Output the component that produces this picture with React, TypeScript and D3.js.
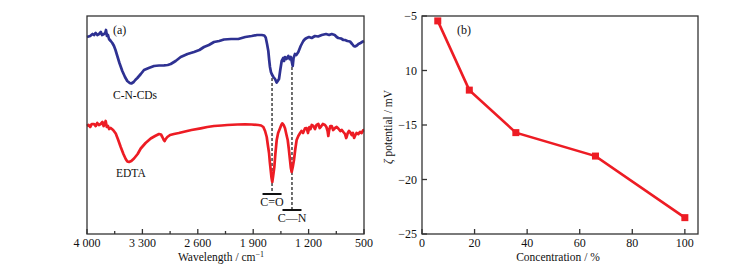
import React from "react";
import * as d3 from "d3";

// Panel (a): FTIR spectra, [wavenumber cm^-1, transmittance (a.u.)]
const cndsSpectrum: [number, number][] = [
  [4000, 197], [3960, 198], [3930, 200], [3912, 199], [3890, 201], [3870, 199], [3848, 200],
  [3825, 202], [3810, 199], [3785, 200], [3770, 201], [3760, 204], [3748, 198], [3735, 199],
  [3722, 195], [3700, 193], [3680, 191], [3659, 188], [3640, 184], [3617, 178], [3590, 171],
  [3554, 163], [3520, 157], [3491, 153], [3460, 151], [3440, 150.5], [3410, 152], [3390, 154],
  [3364, 156], [3320, 160], [3280, 164], [3220, 166], [3153, 168], [3090, 168.5], [3027, 168.7],
  [2980, 169], [2942, 170], [2880, 173], [2816, 177], [2730, 180], [2648, 182], [2580, 184],
  [2522, 187], [2460, 189], [2395, 192], [2330, 193], [2269, 194.5], [2180, 195], [2088, 195],
  [2000, 197], [1919, 198], [1850, 199], [1792, 199], [1760, 198.5], [1742, 196.5], [1725, 190],
  [1709, 183], [1698, 174], [1688, 167], [1676, 162], [1666, 160], [1645, 157], [1624, 155],
  [1610, 152.5], [1603, 151.5], [1590, 153], [1574, 155], [1558, 164], [1540, 173], [1520, 176],
  [1510, 173], [1498, 177], [1480, 175], [1456, 178], [1440, 175], [1426, 177], [1414, 173],
  [1401, 168], [1390, 176], [1372, 180], [1355, 179], [1330, 182], [1300, 188], [1267, 193],
  [1245, 195], [1224, 196], [1195, 197], [1161, 196], [1120, 198], [1080, 197.5], [1034, 199],
  [980, 200], [940, 199], [908, 200], [870, 199], [845, 197], [825, 196], [790, 195.5],
  [760, 194], [740, 194], [710, 193], [677, 192.5], [650, 190], [630, 188], [614, 187.5],
  [590, 188.5], [570, 190], [550, 190.7], [525, 192], [500, 193],
];

const edtaSpectrum: [number, number][] = [
  [4000, 108], [3980, 109], [3960, 107], [3940, 110], [3912, 110], [3890, 108], [3870, 111],
  [3850, 109], [3827, 110], [3805, 112], [3790, 108], [3775, 110], [3764, 113], [3750, 107],
  [3735, 108], [3720, 105], [3701, 106], [3670, 104], [3637, 100.5], [3610, 95], [3574, 87],
  [3540, 80], [3511, 75], [3490, 72.5], [3469, 72], [3440, 73], [3406, 75.5], [3360, 80],
  [3321, 85.5], [3260, 91], [3195, 95.5], [3140, 98], [3090, 100], [3065, 99.5], [3048, 97],
  [3030, 94], [3018, 93], [3005, 95], [2985, 97], [2950, 99], [2901, 100], [2840, 101],
  [2774, 102.3], [2680, 104], [2563, 105.7], [2480, 107], [2395, 108], [2300, 108.5],
  [2227, 109], [2100, 109.5], [2003, 109.7], [1920, 109.5], [1835, 109], [1800, 108.5],
  [1772, 107], [1750, 103], [1729, 97], [1715, 89], [1700, 81], [1690, 72], [1679, 64],
  [1668, 56], [1659, 52], [1648, 58], [1633, 67], [1620, 80], [1603, 94], [1585, 101],
  [1561, 105.7], [1545, 109], [1532, 110.7], [1515, 109], [1498, 105.7], [1482, 100],
  [1464, 94], [1450, 85], [1435, 74], [1424, 66], [1414, 62], [1400, 67], [1385, 74],
  [1368, 85], [1351, 94], [1330, 98], [1309, 100.7], [1290, 103], [1270, 101], [1245, 105.7],
  [1225, 106], [1208, 101], [1190, 107], [1175, 105], [1161, 109], [1140, 108], [1119, 105],
  [1100, 109], [1077, 110], [1060, 106], [1043, 107.5], [1020, 110], [993, 109], [975, 107],
  [960, 103], [951, 98], [940, 104], [925, 108], [908, 108], [890, 104], [866, 106],
  [845, 107], [825, 105.5], [800, 103], [780, 104], [761, 102], [740, 100], [725, 96],
  [719, 97], [705, 101], [690, 103], [677, 102], [655, 99], [640, 101], [625, 96],
  [614, 98], [595, 101], [572, 100], [550, 102], [530, 101], [508, 104], [500, 104],
];

const wnTicks = [4000, 3300, 2600, 1900, 1200, 500];
const wnTickLabels = ["4 000", "3 300", "2 600", "1 900", "1 200", "500"];
const wnMinorTicks = [3650, 2950, 2250, 1550, 850];

// Annotated bands: [wavenumber, label]
const bandWn = [1662, 1410];
const bandLabels = ["C=O", "C\u2014N"];

// Panel (b): zeta potential vs concentration
const concentration = [6, 18, 35.7, 66, 100];
const zeta = [-5.45, -11.8, -15.7, -17.85, -23.5];
const zTicks = [-5, -10, -15, -20, -25];
const zTickLabels = ["\u22125", "10", "\u221215", "\u221220", "\u221225"];
const cTicks = [0, 20, 40, 60, 80, 100];

const FONT = "'Liberation Serif', 'DejaVu Serif', serif";
const BLUE = "#2e3192";
const RED = "#ed1c24";

export default function App() {
  // Panel a geometry
  const aL = 87, aR = 364, top = 16, bottom = 234;
  const xa = d3.scaleLinear().domain([4000, 500]).range([aL, aR]);
  const ya = d3.scaleLinear().domain([0, 218]).range([bottom, top]);
  const lineA = d3.line<[number, number]>().x((d) => xa(d[0])).y((d) => ya(d[1]));

  // Panel b geometry
  const bL = 422, bR = 698;
  const xb = d3.scaleLinear().domain([0, 105]).range([bL, bR]);
  const yb = d3.scaleLinear().domain([-25, -5]).range([bottom, top]);
  const ptsB = concentration.map((c, i) => [c, zeta[i]] as [number, number]);
  const lineB = d3.line<[number, number]>().x((d) => xb(d[0])).y((d) => yb(d[1]));

  const blueAt = (w: number) => {
    const i = cndsSpectrum.findIndex((p) => p[0] <= w);
    return cndsSpectrum[Math.max(0, i)][1];
  };
  const bandTop = bandWn.map((w) => ya(blueAt(w)) - 4);
  const barY = [194, 210];
  const barHalf = [9.5, 9.5];

  return (
    <svg width={755} height={271} style={{ position: "absolute", left: 0, top: 0, background: "#fff" }} fontFamily={FONT}>
      <rect x={0} y={0} width={755} height={271} fill="#fff" />
      {/* ---------- Panel (a) ---------- */}
      {bandWn.map((w, i) => (
        <line key={"d" + i} x1={xa(w)} x2={xa(w)} y1={bandTop[i]} y2={barY[i]}
          stroke="#111" strokeWidth={1.2} strokeDasharray="3,2" />
      ))}
      <path d={lineA(cndsSpectrum) || ""} fill="none" stroke={BLUE} strokeWidth={2.7} strokeLinejoin="round" />
      <path d={lineA(edtaSpectrum) || ""} fill="none" stroke={RED} strokeWidth={2.7} strokeLinejoin="round" />
      {bandWn.map((w, i) => (
        <g key={"b" + i}>
          <line x1={xa(w) - barHalf[i]} x2={xa(w) + barHalf[i]} y1={barY[i]} y2={barY[i]} stroke="#111" strokeWidth={2} />
          <text x={xa(w)} y={barY[i] + 12} textAnchor="middle" fontSize={12} fill="#111">{bandLabels[i]}</text>
        </g>
      ))}
      <rect x={aL} y={top} width={aR - aL} height={bottom - top} fill="none" stroke="#333" strokeWidth={1.3} />
      {wnTicks.map((t, i) => (
        <g key={"wt" + i}>
          <line x1={xa(t)} x2={xa(t)} y1={bottom} y2={bottom - 5} stroke="#333" strokeWidth={1.3} />
          <text x={xa(t)} y={247} textAnchor="middle" fontSize={12} fill="#111">{wnTickLabels[i]}</text>
        </g>
      ))}
      {wnMinorTicks.map((t, i) => (
        <line key={"wm" + i} x1={xa(t)} x2={xa(t)} y1={bottom} y2={bottom - 3} stroke="#333" strokeWidth={1.3} />
      ))}
      <text x={221} y={261} textAnchor="middle" fontSize={11.5} fill="#111">
        Wavelength / cm<tspan dy={-4} fontSize={8}>{"\u22121"}</tspan>
      </text>
      <text x={113} y={34} fontSize={12} fill="#111">(a)</text>
      <text x={113} y={99} fontSize={11.5} fill="#111">C-N-CDs</text>
      <text x={116} y={177} fontSize={11.5} fill="#111">EDTA</text>

      {/* ---------- Panel (b) ---------- */}
      <path d={lineB(ptsB) || ""} fill="none" stroke={RED} strokeWidth={2.6} />
      {ptsB.map((p, i) => (
        <rect key={"m" + i} x={xb(p[0]) - 3.5} y={yb(p[1]) - 3.5} width={7} height={7} fill={RED} />
      ))}
      <rect x={bL} y={top} width={bR - bL} height={bottom - top} fill="none" stroke="#333" strokeWidth={1.3} />
      {zTicks.map((t, i) => (
        <g key={"zt" + i}>
          <line x1={bL} x2={bL + 5} y1={yb(t)} y2={yb(t)} stroke="#333" strokeWidth={1.3} />
          <text x={417} y={yb(t) + 4} textAnchor="end" fontSize={12} fill="#111">{zTickLabels[i]}</text>
        </g>
      ))}
      {cTicks.map((t, i) => (
        <g key={"ct" + i}>
          <line x1={xb(t)} x2={xb(t)} y1={bottom} y2={bottom - 5} stroke="#333" strokeWidth={1.3} />
          <text x={xb(t)} y={247} textAnchor="middle" fontSize={12} fill="#111">{t}</text>
        </g>
      ))}
      <text x={558} y={261} textAnchor="middle" fontSize={11.5} fill="#111">Concentration / %</text>
      <text transform={`translate(392, 127) rotate(-90)`} textAnchor="middle" fontSize={11.5} fill="#111">
        <tspan fontStyle="italic">{"\u03b6"}</tspan> potential / mV
      </text>
      <text x={457} y={34} fontSize={12} fill="#111">(b)</text>
    </svg>
  );
}
